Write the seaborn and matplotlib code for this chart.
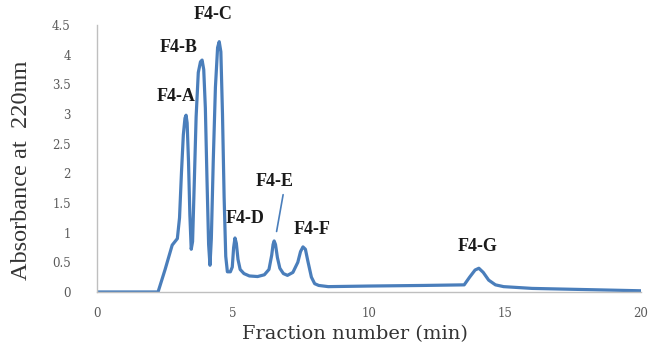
import pandas as pd
import seaborn as sns
import matplotlib.pyplot as plt

#%% chromatogram values
time_min = [0, 1.0, 2.0, 2.24, 2.5, 2.76, 2.95, 3.03, 3.1, 3.17, 3.23, 3.27, 3.31, 3.36, 3.41,
            3.46, 3.51, 3.57, 3.64, 3.72, 3.8, 3.86, 3.92, 3.98, 4.04, 4.1, 4.15, 4.2, 4.27,
            4.35, 4.43, 4.49, 4.55, 4.61, 4.67, 4.73, 4.79, 4.9, 4.97, 5.02, 5.07, 5.12, 5.18,
            5.26, 5.4, 5.6, 5.9, 6.15, 6.32, 6.42, 6.47, 6.51, 6.56, 6.63, 6.72, 6.85, 7.0,
            7.2, 7.38, 7.48, 7.57, 7.66, 7.75, 7.88, 8.0, 8.15, 8.5, 10.0, 12.0, 13.5, 13.7,
            13.9, 14.04, 14.2, 14.4, 14.65, 14.95, 16.0, 18.0, 20.0]
absorbance = [0, 0, 0, 0, 0.38, 0.79, 0.9, 1.25, 2.0, 2.65, 2.93, 2.98, 2.85, 2.2, 1.3,
              0.72, 0.85, 1.8, 2.95, 3.7, 3.88, 3.91, 3.75, 3.1, 1.9, 0.8, 0.45, 0.9, 2.2,
              3.45, 4.12, 4.22, 4.05, 3.0, 1.6, 0.6, 0.34, 0.34, 0.42, 0.75, 0.91, 0.82, 0.55,
              0.38, 0.31, 0.27, 0.26, 0.29, 0.38, 0.62, 0.8, 0.86, 0.8, 0.58, 0.4, 0.31, 0.28,
              0.33, 0.5, 0.68, 0.76, 0.72, 0.52, 0.25, 0.14, 0.11, 0.09, 0.1, 0.11, 0.12, 0.25,
              0.37, 0.4, 0.33, 0.2, 0.12, 0.09, 0.06, 0.04, 0.02]

peak_names = ['F4-A', 'F4-B', 'F4-C', 'F4-D', 'F4-E', 'F4-F', 'F4-G']
label_x = [2.9, 2.98, 4.26, 5.44, 6.54, 7.9, 14.0]
label_y = [3.3, 4.13, 4.67, 1.24, 1.86, 1.05, 0.76]

df = pd.DataFrame({'time': time_min, 'abs': absorbance})

#%% plot
sns.set_style('white')
fig, ax = plt.subplots(figsize=(6.52, 3.48), dpi=100)
fig.subplots_adjust(left=0.149, right=0.983, bottom=0.161, top=0.928)

sns.lineplot(data=df, x='time', y='abs', ax=ax, color='#4a7ebb', linewidth=2.3)

for name, lx, ly in zip(peak_names, label_x, label_y):
    ax.text(lx, ly, name, ha='center', va='center', fontsize=13, fontweight='bold',
            family='Liberation Serif', color='#1a1a1a', clip_on=False)

# small leader line for F4-E
ax.plot([6.84, 6.6], [1.64, 1.02], color='#4a7ebb', linewidth=1.2)

ax.set_xlim(0, 20)
ax.set_ylim(0, 4.5)
ax.set_xticks([0, 5, 10, 15, 20])
ax.set_yticks([0, 0.5, 1, 1.5, 2, 2.5, 3, 3.5, 4, 4.5])
ax.set_yticklabels(['0', '0.5', '1', '1.5', '2', '2.5', '3', '3.5', '4', '4.5'])

sns.despine(ax=ax)
for side in ['left', 'bottom']:
    ax.spines[side].set_color('#bfbfbf')
    ax.spines[side].set_linewidth(1.0)
ax.tick_params(axis='both', which='both', length=3, width=0.8, color='#bfbfbf',
               labelsize=8.5, labelcolor='#595959')
ax.tick_params(axis='x', pad=8)
ax.tick_params(axis='y', pad=16)
for lab in ax.get_xticklabels() + ax.get_yticklabels():
    lab.set_family('DejaVu Serif')

ax.set_xlabel('Fraction number (min)', fontsize=14, family='DejaVu Serif',
              color='#333333')
ax.xaxis.set_label_coords(0.474, -0.125)
ax.set_ylabel('Absorbance at  220nm', fontsize=17.5, family='Liberation Serif',
              color='#333333')
ax.yaxis.set_label_coords(-0.12, 0.457)

fig.savefig('out.png', dpi=100)
